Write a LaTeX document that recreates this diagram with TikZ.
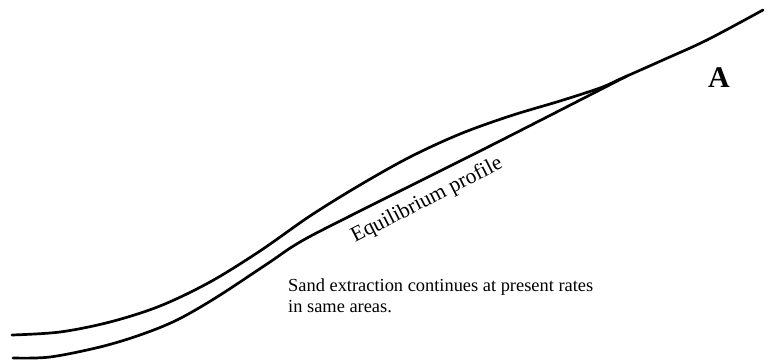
\documentclass[tikz,border=0pt]{standalone}
\usepackage{fontspec}
\setmainfont{Liberation Serif}
\begin{document}
\begin{tikzpicture}[x=1pt,y=-1pt,
  profile/.style={line width=2.7pt,line cap=round,line join=round},
  lbl/.style={inner sep=0pt,font=\fontsize{18.4}{21}\selectfont}]
\useasboundingbox (0,0) rectangle (774,363);
% present profile (upper)
\draw[profile] plot[smooth,tension=0.55] coordinates {
 (12,335) (60,332) (110,322) (160,306) (210,282) (260,251) (310,216)
 (360,185) (410,157) (460,134) (510,116) (560,101) (600,88) (618,80)
 (627,76) (663,60) (707,40) (763,10)};
% equilibrium profile (lower)
\draw[profile] plot[smooth,tension=0.55] coordinates {
 (13,358) (50,357) (100,347) (140,335) (177,320) (217,297) (267,264)
 (300,242) (350,216) (490,146) (627,76)};
\node[lbl,anchor=base west,rotate=27,font=\fontsize{21.5}{24}\selectfont] (eq) at (355,243) {Equilibrium profile};
\node[lbl,anchor=base west,font=\fontsize{30}{32}\bfseries] (a) at (708,88) {A};
\node[lbl,anchor=base west,align=left] (sand) at (288,313)
  {Sand extraction continues at present rates\\in same areas.};
\end{tikzpicture}
\end{document}
